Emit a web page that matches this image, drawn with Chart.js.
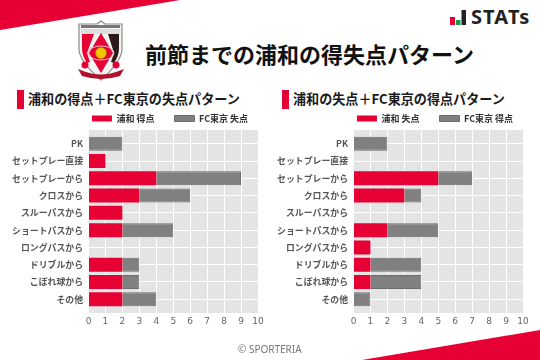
<!DOCTYPE html>
<html lang="ja">
<head>
<meta charset="UTF-8">
<title>前節までの浦和の得失点パターン</title>
<script src="https://cdn.jsdelivr.net/npm/chart.js"></script>
<style>
    html, body { margin: 0; padding: 0; background: #fff; }
    body { width: 540px; height: 360px; position: relative; overflow: hidden; font-family: "Noto Sans CJK JP", sans-serif; }
    .abs { position: absolute; white-space: nowrap; }
    .chart-box { position: absolute; top: 0; width: 340px; height: 360px; }
    #title { left: 145px; top: 36px; font-size: 22px; line-height: 34px; font-weight: 700; color: #111; }
    .sub { top: 89px; font-size: 13.1px; line-height: 20px; font-weight: 700; color: #1a1a1a; }
    .mark { top: 90px; width: 7px; height: 19px; background: #e60033; }
    #credit { left: 238px; top: 342px; font-size: 10px; line-height: 14px; color: #777; font-family: "Noto Sans", sans-serif; }
    #stats { left: 471px; top: 3px; font-size: 20px; line-height: 28px; font-weight: 700; color: #222; letter-spacing: 1.1px; font-family: "Noto Sans", sans-serif; }
</style>
</head>
<body>
<svg class="abs" style="left:0;top:0" width="540" height="360">
    <polygon points="0,0 180,0 0,30" fill="#e60033"/>
    <polygon points="540,330 362,360 540,360" fill="#e60033"/>
    <!-- stats icon -->
    <rect x="450" y="17" width="5" height="8" fill="#e60033"/>
    <rect x="456" y="20" width="4.5" height="5" fill="#1a9a4a"/>
    <rect x="461.5" y="10" width="4.5" height="15" fill="#222"/>
    <!-- crest -->
    <path d="M79 24 L97 24 L101 21 L105 24 L122 24 L122 50 Q121 62 101 80 Q80 62 79 50 Z" fill="#f4f4f4" stroke="#8a8a8a" stroke-width="1.2"/>
    <rect x="81" y="25" width="39" height="3" fill="#777"/>
    <rect x="81" y="29" width="39" height="5" fill="#ddd"/>
    <path d="M82 34 L94 34 L87 53 L90 62 L87 63 Q82 56 82 48 Z" fill="#e60033"/>
    <path d="M108 34 L119 34 L119 48 Q119 56 114 63 L111 62 L114 53 Z" fill="#2a1a1a"/>
    <polygon points="101,33 113,53 101,73 89,53" fill="#e60033"/>
    <ellipse cx="101" cy="53" rx="13" ry="7" fill="none" stroke="#f7b8c4" stroke-width="1"/>
    <circle cx="101" cy="53" r="5.5" fill="#f2c400" stroke="#a88a00" stroke-width="0.5"/>
    <circle cx="85" cy="65" r="3.5" fill="#e60033"/>
    <circle cx="116" cy="65" r="3.5" fill="#e60033"/>
    <path d="M78 69 L86 72 Q101 77 116 72 L124 69 L120 76 Q101 82 82 76 Z" fill="#b0102c"/>
</svg>
<div id="stats" class="abs">STATs</div>
<div id="title" class="abs">前節までの浦和の得失点パターン</div>

<div class="abs mark" style="left:17px"></div>
<div class="abs sub" style="left:28px">浦和の得点＋FC東京の失点パターン</div>
<div class="abs mark" style="left:282px"></div>
<div class="abs sub" style="left:293px">浦和の失点＋FC東京の得点パターン</div>

<div class="chart-box" style="left:0"><canvas id="leftChart"></canvas></div>
<div class="chart-box" style="left:265px"><canvas id="rightChart"></canvas></div>
<div id="credit" class="abs">© SPORTERIA</div>

<script>
    const categories = ['PK', 'セットプレー直接', 'セットプレーから', 'クロスから', 'スルーパスから', 'ショートパスから', 'ロングパスから', 'ドリブルから', 'こぼれ球から', 'その他'];
    const xTicks = [0, 1, 2, 3, 4, 5, 6, 7, 8, 9, 10];

    const urawaScored = [0, 1, 4, 3, 2, 2, 0, 2, 2, 2];
    const tokyoConceded = [2, 0, 5, 3, 0, 3, 0, 1, 1, 2];
    const urawaConceded = [0, 0, 5, 3, 0, 2, 1, 1, 1, 0];
    const tokyoScored = [2, 0, 2, 1, 0, 3, 0, 3, 3, 1];

    const RED = '#e60033';
    const GRAY = '#808080';
    const FONT = '"Noto Sans CJK JP", sans-serif';

    // pairs a value list with the category positions on the y scale
    function toPoints(values) {
        return values.map((v, i) => ({ x: v, y: i }));
    }

    const panelPlugin = {
        id: 'panel',
        // legend sits over the plot, not centred in the chart box
        afterLayout(chart) {
            const legend = chart.legend;
            legend.left += 41;
            legend.right += 41;
            legend.top += 3;
            legend.bottom += 3;
        },
        // gray panel behind the grid
        beforeDraw(chart) {
            const a = chart.chartArea;
            chart.ctx.fillStyle = '#e4e4e4';
            chart.ctx.fillRect(a.left, a.top, a.right - a.left, a.bottom - a.top);
        }
    };

    function makeChart(id, redLabel, redValues, grayLabel, grayValues) {
        new Chart(document.getElementById(id), {
            type: 'bar',
            data: {
                datasets: [
                    { label: redLabel, data: toPoints(redValues), backgroundColor: RED, borderWidth: 0, barThickness: 14, inflateAmount: 0 },
                    {
                        label: grayLabel,
                        data: toPoints(grayValues),
                        backgroundColor: GRAY,
                        borderColor: '#6c6c6c',
                        borderWidth: ctx => (ctx.raw && ctx.raw.x > 0 ? 1 : 0),
                        barThickness: 14,
                        inflateAmount: 0
                    }
                ]
            },
            plugins: [panelPlugin],
            options: {
                indexAxis: 'y',
                responsive: true,
                maintainAspectRatio: false,
                animation: false,
                layout: { padding: { top: 91, right: 82, bottom: 29, left: 0 } },
                plugins: {
                    tooltip: { enabled: false },
                    legend: {
                        position: 'top',
                        onClick: null,
                        labels: {
                            boxWidth: 20,
                            boxHeight: 6,
                            padding: 20,
                            color: '#333',
                            font: { family: FONT, size: 9, weight: '700' }
                        }
                    }
                },
                scales: {
                    x: {
                        type: 'linear',
                        stacked: true,
                        min: 0,
                        max: 10,
                        position: 'bottom',
                        afterBuildTicks(axis) { axis.ticks = xTicks.map(v => ({ value: v })); },
                        afterFit(axis) { axis.height = 18; },
                        grid: { color: '#fff', lineWidth: 1, drawTicks: false },
                        border: { display: false },
                        ticks: { color: '#666', padding: 3, maxRotation: 0, font: { family: '"DejaVu Sans"', size: 9 } }
                    },
                    y: {
                        type: 'linear',
                        stacked: true,
                        reverse: true,
                        offset: false,
                        min: -0.8,
                        max: 9.8,
                        afterBuildTicks(axis) { axis.ticks = categories.map((c, i) => ({ value: i })); },
                        afterFit(axis) { axis.width = 88.5; },
                        grid: { color: '#fff', lineWidth: 1, drawTicks: false, offset: false },
                        border: { display: false },
                        ticks: {
                            color: '#555',
                            padding: 5.5,
                            autoSkip: false,
                            font: { family: FONT, size: 8.9, weight: '700' },
                            callback: value => categories[value]
                        }
                    }
                }
            }
        });
    }

    makeChart('leftChart', '浦和 得点', urawaScored, 'FC東京 失点', tokyoConceded);
    makeChart('rightChart', '浦和 失点', urawaConceded, 'FC東京 得点', tokyoScored);
</script>
</body>
</html>
